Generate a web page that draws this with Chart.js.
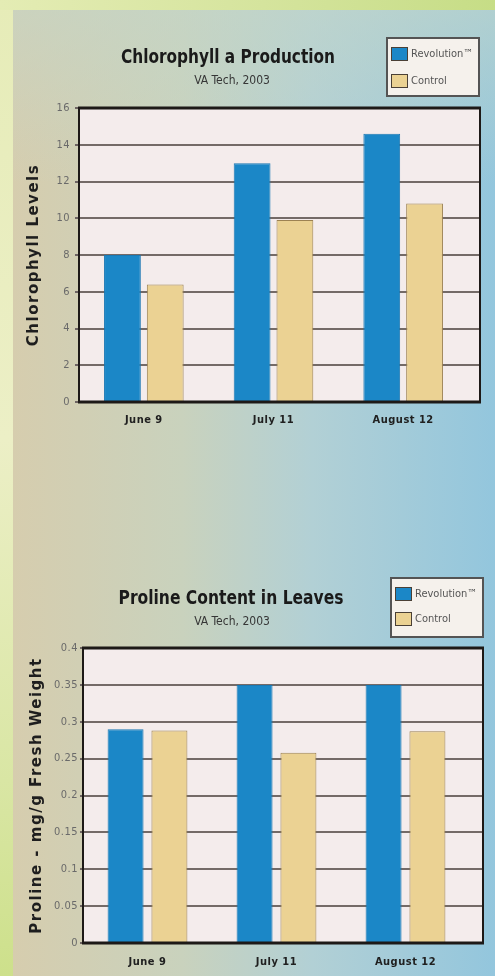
<!DOCTYPE html>
<html>
<head>
<meta charset="utf-8">
<title>Chlorophyll a Production / Proline Content in Leaves</title>
<script src="https://cdn.jsdelivr.net/npm/chart.js@4.4.0/dist/chart.umd.min.js"></script>
<style>
  html, body { margin: 0; padding: 0; }
  body {
    width: 495px; height: 976px; position: relative; overflow: hidden;
    background: linear-gradient(to bottom, #e6ecb8 0%, #ecefc6 45%, #d9e6a4 80%, #cde08b 100%);
  }
  #topband {
    position: absolute; left: 0; top: 0; width: 495px; height: 10px;
    background: linear-gradient(to right, #e4ecb4, #d3e39a 60%, #c6dd86);
  }
  #panel {
    position: absolute; left: 13px; top: 10px; right: 0; bottom: 0;
    background:
      linear-gradient(to bottom, rgba(196, 214, 200, 0.6) 0%, rgba(196, 214, 200, 0) 18%),
      linear-gradient(to right, #d6cdae 0%, #c9d2bd 35%, #b2d0d5 62%, #93c6dd 100%);
  }
  canvas { position: absolute; left: 0; }
  #chl { top: 0; }
  #pro { top: 488px; }
</style>
</head>
<body>
<div id="topband"></div>
<div id="panel"></div>
<canvas id="chl" width="495" height="488"></canvas>
<canvas id="pro" width="495" height="488"></canvas>
<script>
// data
const dates = ['June 9', 'July 11', 'August 12'];
const seriesNames = ['Revolution™', 'Control'];

const chlRevolution = [8, 13, 14.6];
const chlControl = [6.4, 9.9, 10.8];
const chlTicks = [0, 2, 4, 6, 8, 10, 12, 14, 16];

const proRevolution = [0.29, 0.35, 0.35];
const proControl = [0.288, 0.258, 0.287];
const proTicks = [0, 0.05, 0.1, 0.15, 0.2, 0.25, 0.3, 0.35, 0.4];

const FONT = "'DejaVu Sans Condensed', 'Liberation Sans Narrow', Roboto, sans-serif";
const BLUE = '#1b87c7';
const TAN = '#ebd293';

// plot box, gridlines, frame, title and legend drawn around the library's chart area
const paperPlugin = {
  id: 'paper',
  beforeDraw(chart, args, o) {
    const { ctx, chartArea: a } = chart;
    ctx.save();
    ctx.fillStyle = '#f4ecec';
    ctx.fillRect(a.left, a.top, a.right + o.extend - a.left, a.bottom - a.top);
    ctx.restore();
    ctx.letterSpacing = '1.5px'; // axis title is drawn with the grid layer
  },
  beforeDatasetsDraw(chart, args, o) {
    const { ctx, chartArea: a, scales: { y } } = chart;
    ctx.save();
    ctx.strokeStyle = '#746a67';
    ctx.lineWidth = 2;
    y.ticks.forEach(t => {
      const py = Math.round(y.getPixelForValue(t.value));
      ctx.beginPath();
      ctx.moveTo(a.left, py);
      ctx.lineTo(a.right + o.extend, py);
      ctx.stroke();
    });
    ctx.restore();
    ctx.letterSpacing = '0.5px'; // tick labels come after the bars (z: 1)
  },
  afterDatasetsDraw(chart, args, o) {
    const { ctx, chartArea: a } = chart;
    const r = a.right + o.extend;
    ctx.save();
    ctx.strokeStyle = '#1d1917';
    ctx.lineWidth = 3;
    ctx.beginPath();
    ctx.moveTo(a.left - 1, a.top); ctx.lineTo(r + 1, a.top);
    ctx.moveTo(a.left - 1, a.bottom); ctx.lineTo(r + 1, a.bottom);
    ctx.stroke();
    ctx.lineWidth = 2;
    ctx.beginPath();
    ctx.moveTo(a.left, a.top); ctx.lineTo(a.left, a.bottom);
    ctx.moveTo(r, a.top); ctx.lineTo(r, a.bottom);
    ctx.stroke();
    ctx.restore();
  },
  afterDraw(chart, args, o) {
    const ctx = chart.ctx;
    ctx.save();
    ctx.letterSpacing = '0px';
    ctx.textAlign = 'center';
    ctx.textBaseline = 'middle';
    ctx.fillStyle = '#1a1a1a';
    ctx.font = 'bold 19px ' + FONT;
    ctx.fillText(o.title, o.titleX, o.titleY, o.titleWidth);
    ctx.fillStyle = '#363636';
    ctx.font = '12px ' + FONT;
    ctx.fillText(o.subtitle, o.subX, o.subY);

    // legend box
    const L = o.legend;
    ctx.fillStyle = '#f5f1ec';
    ctx.fillRect(L.x, L.y, L.w, L.h);
    ctx.strokeStyle = '#545454';
    ctx.lineWidth = 2;
    ctx.strokeRect(L.x, L.y, L.w, L.h);
    ctx.textAlign = 'left';
    ctx.font = '11px ' + FONT;
    chart.data.datasets.forEach((ds, i) => {
      const cy = L.y + 16 + i * L.gap;
      ctx.fillStyle = ds.backgroundColor;
      ctx.fillRect(L.x + 4, cy - 7, 17, 14);
      ctx.strokeStyle = '#4a4036';
      ctx.lineWidth = 1;
      ctx.strokeRect(L.x + 4.5, cy - 6.5, 16, 13);
      ctx.fillStyle = '#555';
      ctx.fillText(ds.label, L.x + 24, cy, L.w - 27);
    });
    ctx.restore();
    ctx.letterSpacing = '0px';
  }
};

function makeChart(id, cfg) {
  return new Chart(document.getElementById(id), {
    type: 'bar',
    data: {
      labels: dates,
      datasets: [
        { label: seriesNames[0], data: cfg.revolution, backgroundColor: BLUE, borderColor: '#1a78b3', borderWidth: 1,
          categoryPercentage: cfg.catPct, barPercentage: cfg.barPct },
        { label: seriesNames[1], data: cfg.control, backgroundColor: TAN, borderColor: '#9c8252', borderWidth: 1,
          categoryPercentage: cfg.catPct, barPercentage: cfg.barPct }
      ]
    },
    options: {
      responsive: false,
      animation: false,
      layout: { padding: cfg.padding },
      plugins: {
        legend: { display: false },
        tooltip: { enabled: false },
        paper: cfg.paper
      },
      scales: {
        x: {
          grid: { display: false, drawTicks: false },
          border: { display: false },
          ticks: { z: 1, padding: cfg.xPad, color: '#202020', font: { family: FONT, size: 11, weight: 'bold' } },
          afterFit: s => { s.height = cfg.xHeight; }
        },
        y: {
          min: 0,
          max: cfg.ticks[cfg.ticks.length - 1],
          afterBuildTicks: s => { s.ticks = cfg.ticks.map(v => ({ value: v })); },
          afterFit: s => { s.width = cfg.yWidth; },
          grid: { drawOnChartArea: false, tickLength: cfg.tickLen, color: '#6e6462', lineWidth: 2 },
          border: { display: false },
          ticks: { z: 1, padding: cfg.yPad, color: '#6a6a6a', font: { family: FONT, size: 11 }, callback: v => String(v) },
          title: {
            display: true, text: cfg.yTitle, color: '#1e1e1e',
            font: { family: 'DejaVu Sans', size: 15, weight: 'bold' },
            padding: { top: cfg.yTitlePad, bottom: 0 }
          }
        }
      }
    },
    plugins: [paperPlugin]
  });
}

makeChart('chl', {
  revolution: chlRevolution,
  control: chlControl,
  ticks: chlTicks,
  yTitle: 'Chlorophyll Levels',
  catPct: 0.66, barPct: 0.86,
  padding: { left: 0, top: 108, right: 27, bottom: 46 },
  xHeight: 40, xPad: 12, yWidth: 79, yPad: 5, tickLen: 4, yTitlePad: 25,
  paper: {
    extend: 12,
    title: 'Chlorophyll a Production', titleX: 228, titleY: 58, titleWidth: 214,
    subtitle: 'VA Tech, 2003', subX: 232, subY: 81,
    legend: { x: 387, y: 38, w: 92, h: 58, gap: 27 }
  }
});

makeChart('pro', {
  revolution: proRevolution,
  control: proControl,
  ticks: proTicks,
  yTitle: 'Proline - mg/g Fresh Weight',
  catPct: 0.68, barPct: 0.82,
  padding: { left: 0, top: 160, right: 25, bottom: 3 },
  xHeight: 30, xPad: 13, yWidth: 83, yPad: 2, tickLen: 3, yTitlePad: 28,
  paper: {
    extend: 13,
    title: 'Proline Content in Leaves', titleX: 231, titleY: 111, titleWidth: 225,
    subtitle: 'VA Tech, 2003', subX: 232, subY: 134,
    legend: { x: 391, y: 90, w: 92, h: 59, gap: 25 }
  }
});
</script>
</body>
</html>
